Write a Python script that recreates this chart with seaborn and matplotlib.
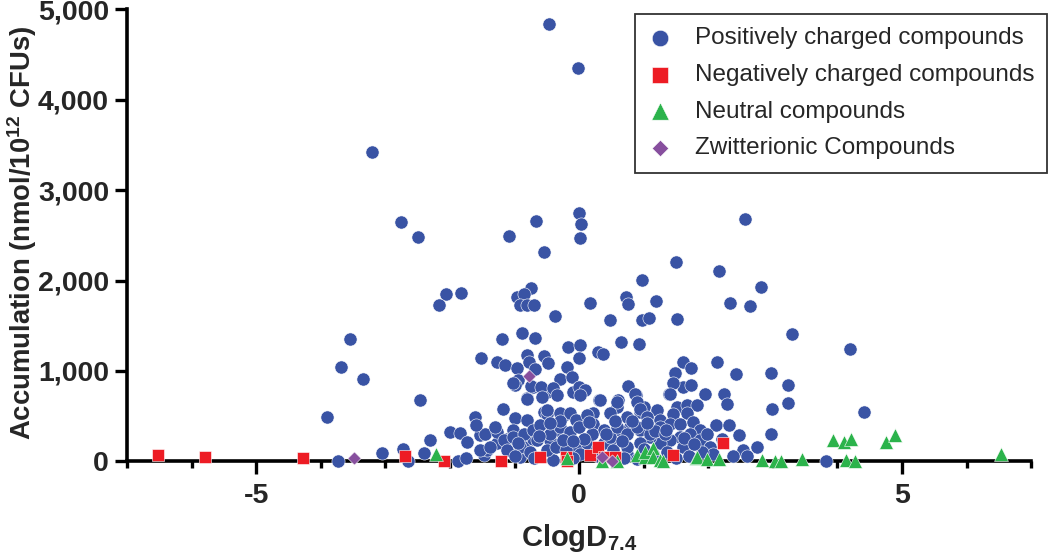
import matplotlib
matplotlib.use('Agg')
import matplotlib.pyplot as plt
import seaborn as sns
import pandas as pd
from matplotlib.ticker import FuncFormatter, MultipleLocator

# --- DATA (ClogD7.4, accumulation) ---
pos_x = [-0.46, -0.02, -3.20, -2.76, -2.49, -1.08, -0.67, -0.54, 0.00, 0.03, 0.02, 2.57, 1.50, 2.17, 2.82,
         -2.06, -1.83, -2.17, -0.75, -0.96, -0.86, -0.91, -0.81, -0.70, -0.37, 0.98, 0.72, 0.75, 1.19, 0.17,
         0.48, 0.97, 1.09, 1.52, 2.34, 2.65, 3.29, 4.20,
         -1.19, -0.88, -0.69, -1.52, -1.27, -1.15, -0.96, -0.80, -0.78, -0.68, -0.54, -0.48, -0.17, 0.02,
         0.00, -0.19, -0.29, -0.11, 0.30, 0.37, 0.65, 0.93, -0.95, -0.99, 1.48, 0.75, 1.61, 1.73, 1.49,
         2.14, 2.43, 2.97, 3.24, 1.61, 1.74,
         -3.54, -3.68, -3.34, -3.91, -2.47, -1.61, -1.18,
         -1.02, -0.81, -0.71, -0.50, -0.55, -0.99, -0.81, -0.50, -0.24, -0.09, -0.75, -0.59, -0.58, -0.40,
         -0.34, -0.80, 0.00, 0.09, 0.02, 0.31, 0.88, 1.00, 0.94, 0.61, 0.58, 1.39, 1.46, 1.51, 1.46, -0.49,
         3.24, 2.99, 4.42, 2.25, 2.29, 1.95, 1.41, 1.67, 1.82, 1.20, 0.87, 0.90, 0.95, 0.58, 0.33, -0.29,
         -0.14, 0.22, 0.48, 0.74, 1.05, 1.67,
         -3.74, -3.05, -2.73, -2.65, -2.31, -1.87, -2.00, -1.84, -1.74, -1.53, -1.48, -0.91, -0.40, -1.12,
         -1.02, -1.27, -1.43, -0.86, -0.35, -0.14, -0.45, -0.71,
         1.25, 1.41, 1.56, 1.77, 1.87, 1.72, 1.56, 1.41, 1.25, 1.10, 0.94, 0.79, 0.63, 0.48, 0.38, 0.53,
         0.74, 0.94, 1.15, 1.36, 1.61, 1.87, 2.03, 2.08, 2.12, 2.32, 2.47, 2.54, 2.75, 2.97, 2.38, 3.83,
         -1.46, -1.27, -1.17, -1.02, -0.86, -0.71, -0.65, -0.45, -0.29, -0.14, -0.04, 0.12, 0.22, 0.38,
         0.48, 0.58, 0.74, 0.89, 1.10, 1.25, -1.53, -1.38, -1.12, -0.91, -0.76, -0.50, -0.35, -0.04, 0.12,
         0.02, 0.74,
         -0.60, -0.30, 0.20, 0.00, 0.30, 0.70, 1.00, 1.50, 1.90, -0.20, -1.00, -1.60, -0.10, 0.90, 1.70,
         -0.95, -0.62, -0.25, 0.08, 0.42, 0.66, 1.18, 1.33, 1.62, 1.98, 2.22, -1.30, -0.45, 0.15, 0.55,
         0.82, 1.05, 1.35, -0.70, -0.10, 0.28, 1.78, 2.60, -2.40, -1.75]
pos_y = [4840, 4350, 3420, 2646, 2480, 2490, 2657, 2318, 2745, 2624, 2469, 2679, 2205, 2103, 1926,
         1849, 1867, 1727, 1918, 1812, 1856, 1727, 1727, 1727, 1608, 2008, 1812, 1738, 1771, 1746,
         1561, 1561, 1580, 1569, 1746, 1716, 1406, 1240,
         1358, 1414, 1365, 1144, 1099, 1063, 1037, 1173, 1099, 1018, 1162, 1092, 1265, 1284,
         1144, 1044, 915, 933, 1210, 1181, 1314, 1292, 897, 841, 971, 834, 1099, 1037, 978,
         1099, 960, 971, 841, 822, 841,
         1350, 1040, 908, 491, 675, 491, 583,
         860, 694, 822, 767, 546, 473, 454, 527, 509, 767, 830, 816, 712, 805,
         731, 686, 822, 786, 731, 675, 738, 601, 546, 675, 601, 749, 860, 601, 527, 565,
         645, 583, 539, 749, 638, 749, 749, 620, 620, 565, 749, 656, 583, 656, 675, 531,
         531, 528, 528, 490, 490, 528,
         0, 92, 130, 0, 232, 0, 318, 307, 214, 288, 66, 48, 11, 251,
         343, 196, 122, 158, 343, 269, 232, 251,
         454, 417, 417, 435, 343, 306, 269, 232, 196, 269, 343, 380, 343, 232, 196, 122,
         85, 196, 85, 103, 158, 232, 158, 85, 399, 406, 288, 122, 158, 306, 55, 0,
         306, 324, 232, 269, 306, 343, 232, 306, 380, 324, 454, 509, 417, 343,
         269, 380, 306, 380, 306, 380, 122, 158, 122, 158, 103, 122, 158, 158, 196,
         85, 158,
         400, 440, 300, 380, 60, 30, 140, 40, 100, 120, 60, 400, 30, 20, 60,
         200, 280, 230, 250, 300, 220, 330, 300, 260, 300, 250, 380, 420, 430, 440,
         450, 420, 350, 30, 220, 130, 190, 60, 90, 40]

neg_x = [-6.52, -5.79, -4.28, -2.70, -2.09, -1.21, -0.60, -0.21, -0.18, 0.17, 0.30, 0.38, 0.56, 1.46, 2.23]
neg_y = [70, 45, 37, 55, 3, 0, 44, 48, 0, 66, 158, 48, 48, 66, 196]

neu_x = [-2.21, -0.18, 0.35, 0.59, 0.90, 1.02, 1.02, 1.15, 1.14, 1.25, 1.30, 1.81, 1.82, 1.98, 2.17,
         2.84, 3.03, 3.12, 3.45, 3.93, 4.11, 4.21, 4.13, 4.27, 4.76, 4.89, 6.54]
neu_y = [77, 30, 0, 0, 66, 48, 103, 141, 48, 11, 0, 30, 48, 19, 19,
         11, 0, 0, 19, 232, 214, 251, 11, 0, 207, 288, 85]

zwit_x = [-3.49, -0.77, 0.35, 0.51]
zwit_y = [37, 941, 41, 0]

LABELS = ['Positively charged compounds', 'Negatively charged compounds',
          'Neutral compounds', 'Zwitterionic Compounds']
COLORS = ['#3953A4', '#ED1C24', '#2BB34B', '#874F9E']
MARKERS = ['o', 's', '^', 'D']
SIZES = [90, 85, 100, 45]
# ---------------------

sns.set_style('ticks')
plt.rcParams['font.family'] = ['Liberation Sans', 'DejaVu Sans']
plt.rcParams['mathtext.fontset'] = 'custom'
plt.rcParams['mathtext.rm'] = 'Liberation Sans:bold'
plt.rcParams['mathtext.default'] = 'rm'
plt.rcParams['axes.unicode_minus'] = False

groups = [(pos_x, pos_y), (neg_x, neg_y), (neu_x, neu_y), (zwit_x, zwit_y)]
frames = []
for (gx, gy), lab in zip(groups, LABELS):
    frames.append(pd.DataFrame({'clogd': gx, 'acc': gy, 'type': lab}))
df = pd.concat(frames, ignore_index=True)

fig = plt.figure(figsize=(10.5, 5.57), dpi=100)
ax = fig.add_axes([0.121, 0.172, 0.861, 0.811])

for lab, col, mk, sz in zip(LABELS, COLORS, MARKERS, SIZES):
    sub = df[df['type'] == lab]
    sns.scatterplot(data=sub, x='clogd', y='acc', ax=ax, color=col, marker=mk, s=sz,
                    edgecolor='white', linewidth=0.4, label=lab, clip_on=False, zorder=5)

ax.set_xlim(-7, 7)
ax.set_ylim(0, 5000)
ax.xaxis.set_major_locator(MultipleLocator(5))
ax.xaxis.set_minor_locator(MultipleLocator(1))
ax.yaxis.set_major_locator(MultipleLocator(1000))
ax.yaxis.set_major_formatter(FuncFormatter(lambda v, p: f'{int(v):,}'))
ax.xaxis.set_major_formatter(FuncFormatter(lambda v, p: f'{int(v)}'))

sns.despine(ax=ax)
for side in ['left', 'bottom']:
    ax.spines[side].set_linewidth(2.6)
    ax.spines[side].set_color('black')
ax.tick_params(axis='both', which='major', length=9, width=2.4, labelsize=20.5, color='black', pad=4)
ax.tick_params(axis='x', which='minor', length=5, width=2.4, color='black')
ax.tick_params(axis='x', which='major', pad=7)
for t in ax.get_xticklabels() + ax.get_yticklabels():
    t.set_fontweight('bold')

ax.set_xlabel('ClogD$_{7.4}$', fontsize=21, fontweight='bold')
ax.set_ylabel('Accumulation (nmol/10$^{12}$ CFUs)', fontsize=19.8, fontweight='bold')
ax.xaxis.set_label_coords(0.5, -0.135)
ax.yaxis.set_label_coords(-0.097, 0.505)

leg = ax.legend(loc='upper right', bbox_to_anchor=(1.018, 0.99), borderaxespad=0,
                fontsize=17.5, frameon=True, fancybox=False, edgecolor='black', markerscale=1.25,
                handletextpad=0.9, labelspacing=0.6, borderpad=0.55, handlelength=1.0)
leg.get_frame().set_linewidth(1.3)
leg.set_zorder(10)

fig.savefig('out.png', dpi=100)
